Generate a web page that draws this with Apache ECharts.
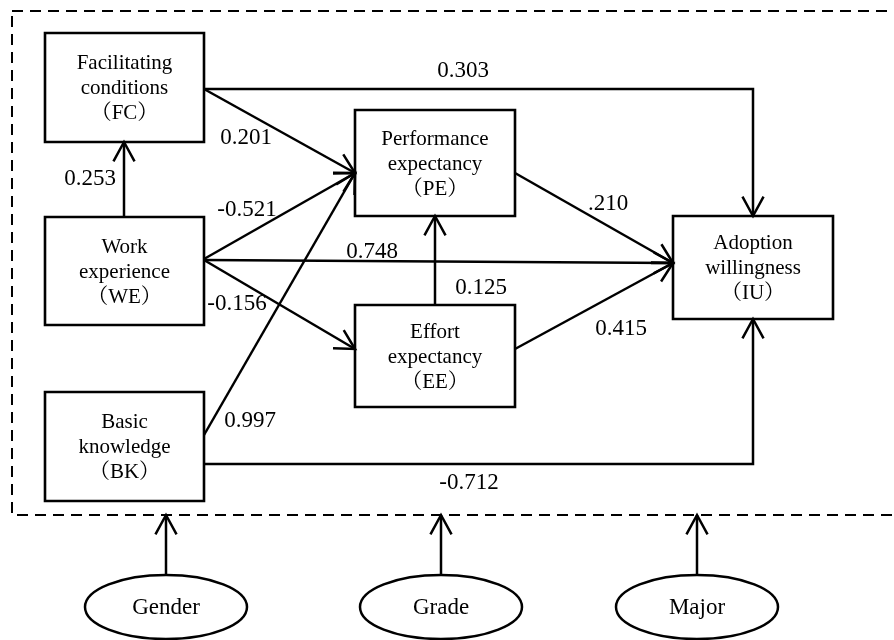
<!DOCTYPE html>
<html>
<head>
<meta charset="utf-8">
<script src="https://cdn.jsdelivr.net/npm/echarts@6/dist/echarts.min.js"></script>
<style>
html,body{margin:0;padding:0;background:#fff;}
#chart{width:894px;height:640px;}
</style>
</head>
<body>
<div id="chart"></div>
<script>
// ---------- data ----------
const nodeKeys = ['FC', 'WE', 'BK', 'PE', 'EE', 'IU'];
const nodeLabels = [
  'Facilitating\nconditions\n（FC）',
  'Work\nexperience\n（WE）',
  'Basic\nknowledge\n（BK）',
  'Performance\nexpectancy\n（PE）',
  'Effort\nexpectancy\n（EE）',
  'Adoption\nwillingness\n（IU）'
];
const controlVars = ['Gender', 'Grade', 'Major'];
const pathFrom = ['FC', 'FC', 'WE', 'WE', 'WE', 'WE', 'BK', 'BK', 'EE', 'PE', 'EE'];
const pathTo   = ['IU', 'PE', 'FC', 'PE', 'IU', 'EE', 'PE', 'IU', 'PE', 'IU', 'IU'];
const pathCoefficients = ['0.303', '0.201', '0.253', '-0.521', '0.748', '-0.156', '0.997', '-0.712', '0.125', '.210', '0.415'];

// ---------- layout (diagram units) ----------
const layout = {
  boxes: {
    FC: [45, 33, 204, 142],
    WE: [45, 217, 204, 325],
    BK: [45, 392, 204, 501],
    PE: [355, 110, 515, 216],
    EE: [355, 305, 515, 407],
    IU: [673, 216, 833, 319]
  },
  routes: [
    [[204, 89], [753, 89], [753, 216]],
    [[204, 89], [355, 173]],
    [[124, 217], [124, 142]],
    [[204, 259], [355, 173]],
    [[204, 260], [673, 263]],
    [[204, 260], [355, 349]],
    [[204, 435], [355, 173]],
    [[204, 464], [753, 464], [753, 319]],
    [[435, 305], [435, 216]],
    [[515, 173], [673, 263]],
    [[515, 349], [673, 263]]
  ],
  labelPos: [
    [463, 71], [246, 138], [90, 179], [247, 210], [372, 252], [237, 304],
    [250, 421], [469, 483], [481, 288], [608, 204], [621, 329]
  ],
  ellipses: [[166, 607], [441, 607], [697, 607]],
  ellipseR: [81, 32],
  frame: [12, 11, 920, 515]
};

const SERIF = "'Liberation Serif','Times New Roman','Noto Serif CJK SC','Noto Sans CJK SC',serif";
const LW = 2.5;

function arrowHead(tip, prev, L, ang) {
  const dx = tip[0] - prev[0], dy = tip[1] - prev[1];
  const len = Math.sqrt(dx * dx + dy * dy);
  const ux = dx / len, uy = dy / len;
  const pts = [];
  [ang, -ang].forEach(function (a) {
    const c = Math.cos(a), s = Math.sin(a);
    const rx = ux * c - uy * s, ry = ux * s + uy * c;
    pts.push([tip[0] - rx * L, tip[1] - ry * L]);
  });
  return [pts[0], tip, pts[1]];
}

const chart = echarts.init(document.getElementById('chart'), null, { renderer: 'canvas' });

const option = {
  animation: false,
  backgroundColor: '#ffffff',
  grid: { left: 0, right: 0, top: 0, bottom: 0 },
  xAxis: { type: 'value', min: 0, max: 894, show: false },
  yAxis: { type: 'value', min: 0, max: 640, inverse: true, show: false },
  series: [
    // dashed frame
    {
      type: 'custom', coordinateSystem: 'cartesian2d', clip: false, silent: true,
      data: [[0]],
      renderItem: function (params, api) {
        const f = layout.frame;
        const p0 = api.coord([f[0], f[1]]), p1 = api.coord([f[2], f[3]]);
        return {
          type: 'rect',
          shape: { x: p0[0], y: p0[1], width: p1[0] - p0[0], height: p1[1] - p0[1] },
          style: { fill: 'none', stroke: '#000', lineWidth: 2, lineDash: [11, 7] }
        };
      }
    },
    // paths
    {
      type: 'custom', coordinateSystem: 'cartesian2d', clip: false, silent: true,
      data: pathFrom.map(function (f, i) { return [i]; }),
      renderItem: function (params, api) {
        const i = api.value(0);
        const pts = layout.routes[i].map(function (p) { return api.coord(p); });
        const n = pts.length;
        return {
          type: 'group',
          children: [
            { type: 'polyline', shape: { points: pts }, style: { fill: 'none', stroke: '#000', lineWidth: LW } },
            { type: 'polyline', shape: { points: arrowHead(pts[n - 1], pts[n - 2], 22, 0.5) }, style: { fill: 'none', stroke: '#000', lineWidth: LW } }
          ]
        };
      }
    },
    // control variable arrows and ellipses
    {
      type: 'custom', coordinateSystem: 'cartesian2d', clip: false, silent: true,
      data: controlVars.map(function (v, i) { return [i]; }),
      renderItem: function (params, api) {
        const i = api.value(0);
        const c = layout.ellipses[i];
        const cp = api.coord(c);
        const top = api.coord([c[0], c[1] - layout.ellipseR[1]]);
        const tip = api.coord([c[0], layout.frame[3]]);
        return {
          type: 'group',
          children: [
            { type: 'ellipse', shape: { cx: cp[0], cy: cp[1], rx: layout.ellipseR[0], ry: layout.ellipseR[1] }, style: { fill: '#fff', stroke: '#000', lineWidth: LW } },
            { type: 'line', shape: { x1: top[0], y1: top[1], x2: tip[0], y2: tip[1] }, style: { stroke: '#000', lineWidth: LW } },
            { type: 'polyline', shape: { points: arrowHead(tip, top, 22, 0.5) }, style: { fill: 'none', stroke: '#000', lineWidth: LW } },
            { type: 'text', style: { text: controlVars[i], x: cp[0], y: cp[1] + 1, align: 'center', verticalAlign: 'middle', font: '23px ' + SERIF, fill: '#000' } }
          ]
        };
      }
    },
    // boxes
    {
      type: 'custom', coordinateSystem: 'cartesian2d', clip: false, silent: true,
      data: nodeKeys.map(function (k, i) { return [i]; }),
      renderItem: function (params, api) {
        const i = api.value(0);
        const b = layout.boxes[nodeKeys[i]];
        const p0 = api.coord([b[0], b[1]]), p1 = api.coord([b[2], b[3]]);
        return {
          type: 'group',
          children: [
            { type: 'rect', shape: { x: p0[0], y: p0[1], width: p1[0] - p0[0], height: p1[1] - p0[1] }, style: { fill: 'none', stroke: '#000', lineWidth: 2.6 } },
            { type: 'text', style: { text: nodeLabels[i], x: (p0[0] + p1[0]) / 2, y: (p0[1] + p1[1]) / 2 + 1, align: 'center', verticalAlign: 'middle', font: '21px ' + SERIF, lineHeight: 25, fill: '#000' } }
          ]
        };
      }
    },
    // coefficient labels
    {
      type: 'custom', coordinateSystem: 'cartesian2d', clip: false, silent: true,
      data: pathCoefficients.map(function (v, i) { return [i]; }),
      renderItem: function (params, api) {
        const i = api.value(0);
        const p = api.coord(layout.labelPos[i]);
        return {
          type: 'text',
          style: { text: pathCoefficients[i], x: p[0], y: p[1], align: 'center', verticalAlign: 'middle', font: '23px ' + SERIF, fill: '#000' }
        };
      }
    }
  ]
};
chart.setOption(option);
</script>
</body>
</html>
